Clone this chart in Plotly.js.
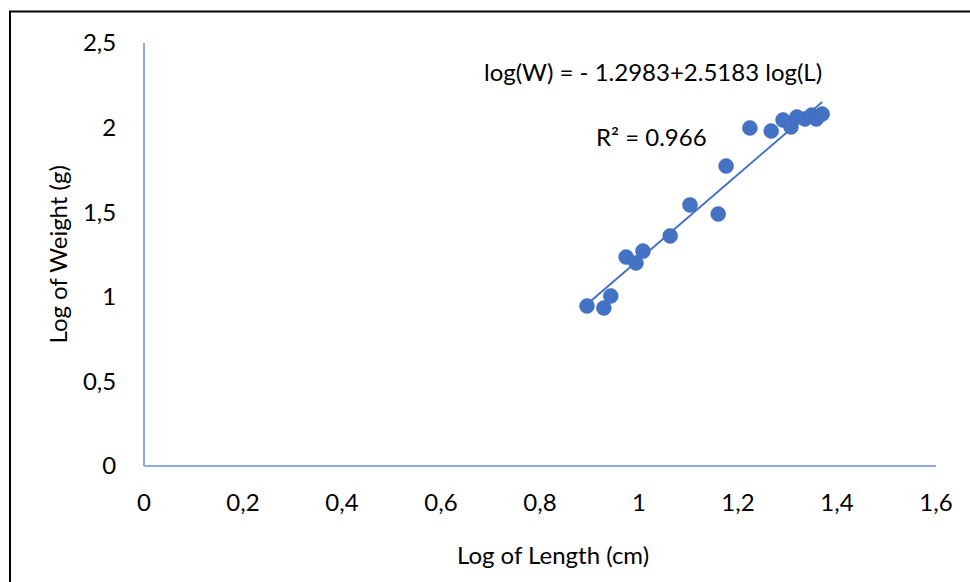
<!DOCTYPE html>
<html>
<head>
<meta charset="utf-8">
<script src="https://cdn.plot.ly/plotly-3.0.1.min.js"></script>
<style>html,body{margin:0;padding:0;background:#fff;}#chart{width:970px;height:582px;}</style>
</head>
<body>
<div id="chart"></div>
<script>
// Data
const logLength = [0.895, 0.929, 0.943, 0.974, 0.994, 1.008, 1.063, 1.103, 1.160, 1.176, 1.224, 1.267, 1.291, 1.307, 1.319, 1.335, 1.349, 1.358, 1.370];
const logWeight = [0.946, 0.934, 1.005, 1.235, 1.200, 1.270, 1.360, 1.543, 1.489, 1.773, 1.998, 1.980, 2.045, 2.004, 2.063, 2.051, 2.074, 2.051, 2.080];
const fitIntercept = -1.2983;
const fitSlope = 2.5183;
const rSquared = 0.966;
const xTicks = [0, 0.2, 0.4, 0.6, 0.8, 1, 1.2, 1.4, 1.6];
const yTicks = [0, 0.5, 1, 1.5, 2, 2.5];

const xMin = Math.min(...logLength), xMax = Math.max(...logLength);
const fitX = [xMin, xMax];
const fitY = fitX.map(v => fitIntercept + fitSlope * v);

const blue = '#4472C4';
const axisBlue = '#8FAADC';
const font = 'Lato, "Open Sans", sans-serif';
const fs = 24;

const traces = [
  {x: logLength, y: logWeight, type: 'scatter', mode: 'markers',
   marker: {size: 15, color: blue, line: {width: 0.5, color: '#3E67B1'}}, hoverinfo: 'x+y'},
  {x: fitX, y: fitY, type: 'scatter', mode: 'lines',
   line: {color: blue, width: 2}, hoverinfo: 'skip'}
];

const layout = {
  width: 970, height: 582,
  margin: {l: 144, r: 34, t: 43, b: 116},
  paper_bgcolor: '#fff', plot_bgcolor: '#fff',
  separators: ',.',
  showlegend: false,
  font: {family: font, size: fs, color: '#000'},
  xaxis: {range: [0, 1.6], tickvals: xTicks, showgrid: false, zeroline: false,
          showline: false, ticks: 'outside', ticklen: 15, tickcolor: 'rgba(0,0,0,0)',
          tickfont: {size: fs, color: '#000'}, fixedrange: true},
  yaxis: {range: [0, 2.5], tickvals: yTicks, showgrid: false, zeroline: false,
          showline: false, ticks: 'outside', ticklen: 22, tickcolor: 'rgba(0,0,0,0)',
          tickfont: {size: fs, color: '#000'}, fixedrange: true},
  shapes: [
    {type: 'line', xref: 'paper', yref: 'paper', x0: 0, x1: 1, y0: 0, y1: 0,
     line: {color: axisBlue, width: 2}, layer: 'below'},
    {type: 'line', xref: 'paper', yref: 'paper', x0: 0, x1: 0, y0: 0, y1: 1,
     line: {color: axisBlue, width: 2}, layer: 'below'},
    {type: 'rect', xref: 'paper', yref: 'paper', x0: -0.1692, x1: 1.2, y0: -0.4, y1: 1.0746,
     line: {color: '#000', width: 2}, fillcolor: 'rgba(0,0,0,0)', layer: 'below'}
  ],
  annotations: [
    {xref: 'x', yref: 'y', x: 1.028, y: 2.33, showarrow: false,
     text: 'log(W) = - ' + Math.abs(fitIntercept).toFixed(4) + '+' + fitSlope.toFixed(4) + ' log(L)',
     font: {size: fs, color: '#000'}, xanchor: 'center', yanchor: 'middle'},
    {xref: 'x', yref: 'y', x: 1.025, y: 1.945, showarrow: false,
     text: 'R² = ' + rSquared.toFixed(3),
     font: {size: fs, color: '#000'}, xanchor: 'center', yanchor: 'middle'},
    {xref: 'paper', yref: 'paper', x: 0.5164, y: -0.2083, showarrow: false,
     text: 'Log of Length (cm)', font: {size: fs, color: '#000'}, xanchor: 'center', yanchor: 'middle'},
    {xref: 'paper', yref: 'paper', x: -0.1098, y: 0.5, showarrow: false, textangle: -90,
     text: 'Log of Weight (g)', font: {size: fs, color: '#000'}, xanchor: 'center', yanchor: 'middle'}
  ]
};

Plotly.newPlot('chart', traces, layout, {displayModeBar: false, staticPlot: true});
</script>
</body>
</html>
